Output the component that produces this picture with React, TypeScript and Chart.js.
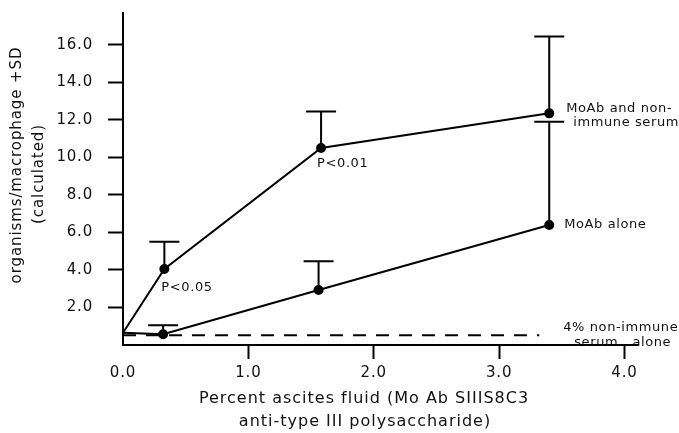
import React, { useEffect, useRef } from "react";
import { Chart, registerables } from "chart.js";

Chart.register(...registerables);

// ---- data ----
const moabSerumX = [0, 0.33, 1.58, 3.4];
const moabSerumY = [0.65, 4.05, 10.5, 12.35];
const moabSerumUpper = [null, 5.5, 12.45, 16.45];

const moabAloneX = [0, 0.32, 1.56, 3.4];
const moabAloneY = [0.65, 0.57, 2.93, 6.4];
const moabAloneUpper = [null, 1.05, 4.47, 11.9];

const serumAloneX = [0, 3.32];
const serumAloneY = [0.52, 0.52];

const yTickValues = [2, 4, 6, 8, 10, 12, 14, 16];
const xTickValues = [0, 1, 2, 3, 4];

const FONT = "'DejaVu Sans', sans-serif";

const toPts = (xs: number[], ys: number[]) => xs.map((x, i) => ({ x, y: ys[i] }));

const spacing = {
  id: "spacing",
  beforeDraw(chart: any) {
    chart.ctx.letterSpacing = "0.8px";
  },
};

const overlay = {
  id: "overlay",
  afterDatasetsDraw(chart: any) {
    const ctx = chart.ctx;
    const xs = chart.scales.x;
    const ys = chart.scales.y;
    ctx.save();
    ctx.strokeStyle = "#000";
    ctx.lineWidth = 2;
    const drawErr = (xArr: number[], yArr: number[], up: (number | null)[]) => {
      xArr.forEach((x, i) => {
        const u = up[i];
        if (u == null) return;
        const px = xs.getPixelForValue(x);
        const py = ys.getPixelForValue(yArr[i]);
        const pu = ys.getPixelForValue(u);
        ctx.beginPath();
        ctx.moveTo(px, py);
        ctx.lineTo(px, pu);
        ctx.moveTo(px - 15, pu);
        ctx.lineTo(px + 15, pu);
        ctx.stroke();
      });
    };
    drawErr(moabSerumX, moabSerumY, moabSerumUpper);
    drawErr(moabAloneX, moabAloneY, moabAloneUpper);

    ctx.fillStyle = "#111";
    ctx.textBaseline = "middle";
    ctx.textAlign = "left";
    ctx.font = `13px ${FONT}`;
    ctx.letterSpacing = "0.6px";
    const txt = (s: string, x: number, y: number, dx: number, dy: number) => {
      ctx.fillText(s, xs.getPixelForValue(x) + dx, ys.getPixelForValue(y) + dy);
    };
    txt("P<0.05", moabSerumX[1], moabSerumY[1], -3, 19);
    txt("P<0.01", moabSerumX[2], moabSerumY[2], -4, 16);
    txt("MoAb and non-", moabSerumX[3], moabSerumY[3], 17, -5);
    txt("immune serum", moabSerumX[3], moabSerumY[3], 24, 9);
    txt("MoAb alone", moabAloneX[3], moabAloneY[3], 15, 0);
    txt("4% non-immune", serumAloneX[1], serumAloneY[1], 24, -8);
    txt("serum   alone", serumAloneX[1], serumAloneY[1], 35, 7);

    // axis titles
    ctx.font = `16px ${FONT}`;
    ctx.letterSpacing = "1px";
    ctx.textAlign = "center";
    ctx.fillText("Percent ascites fluid (Mo Ab SIIIS8C3", 364, 399);
    ctx.fillText("anti-type III polysaccharide)", 365, 422);
    ctx.font = `15px ${FONT}`;
    ctx.letterSpacing = "0.9px";
    ctx.save();
    ctx.translate(17, 165);
    ctx.rotate(-Math.PI / 2);
    ctx.fillText("organisms/macrophage +SD", 0, 0);
    ctx.restore();
    ctx.save();
    ctx.translate(39, 174);
    ctx.rotate(-Math.PI / 2);
    ctx.fillText("(calculated)", 0, 0);
    ctx.restore();
    ctx.restore();
  },
};

export default function App() {
  const ref = useRef<HTMLCanvasElement>(null);
  useEffect(() => {
    if (!ref.current) return;
    const chart = new Chart(ref.current, {
      type: "scatter",
      data: {
        datasets: [
          {
            label: "MoAb and non-immune serum",
            data: toPts(moabSerumX, moabSerumY),
            showLine: true,
            borderColor: "#000",
            backgroundColor: "#000",
            borderWidth: 2,
            pointRadius: [0, 4, 4, 4],
          },
          {
            label: "MoAb alone",
            data: toPts(moabAloneX, moabAloneY),
            showLine: true,
            borderColor: "#000",
            backgroundColor: "#000",
            borderWidth: 2,
            pointRadius: [0, 4, 4, 4],
          },
          {
            label: "4% non-immune serum alone",
            data: toPts(serumAloneX, serumAloneY),
            showLine: true,
            borderColor: "#000",
            borderWidth: 2,
            borderDash: [13, 10],
            pointRadius: 0,
          },
        ],
      },
      options: {
        animation: false,
        responsive: false,
        layout: { padding: { top: 13, right: 42, left: 0, bottom: 0 } },
        plugins: { legend: { display: false }, tooltip: { enabled: false } },
        scales: {
          x: {
            type: "linear",
            min: 0,
            max: 4.1,
            afterBuildTicks: (s: any) => {
              s.ticks = xTickValues.map((v) => ({ value: v }));
            },
            afterFit: (s: any) => {
              s.height = 88;
              s.paddingLeft = 0;
              s.paddingRight = 0;
            },
            border: { display: true, color: "#000", width: 2 },
            grid: {
              drawOnChartArea: false,
              drawTicks: true,
              tickLength: 14,
              tickWidth: 2,
              tickColor: (c: any) => (c.tick && c.tick.value === 0 ? "rgba(0,0,0,0)" : "#000"),
            },
            ticks: {
              color: "#111",
              padding: 5,
              font: { family: FONT, size: 15 },
              callback: (v: any) => Number(v).toFixed(1),
              maxRotation: 0,
            },
          },
          y: {
            type: "linear",
            min: 0,
            max: 17.7,
            afterBuildTicks: (s: any) => {
              s.ticks = yTickValues.map((v) => ({ value: v }));
            },
            afterFit: (s: any) => {
              s.width = 123;
              s.paddingTop = 0;
              s.paddingBottom = 0;
            },
            border: { display: true, color: "#000", width: 2 },
            grid: {
              drawOnChartArea: false,
              drawTicks: true,
              tickLength: 15,
              tickWidth: 2,
              tickColor: "#000",
            },
            ticks: {
              color: "#111",
              padding: 15,
              font: { family: FONT, size: 15 },
              callback: (v: any) => Number(v).toFixed(1),
            },
          },
        },
      },
      plugins: [spacing, overlay],
    } as any);
    return () => chart.destroy();
  }, []);
  return (
    <div style={{ position: "absolute", left: 0, top: 0, width: 679, height: 433, background: "#fff" }}>
      <canvas ref={ref} width={679} height={433} style={{ display: "block" }} />
    </div>
  );
}
